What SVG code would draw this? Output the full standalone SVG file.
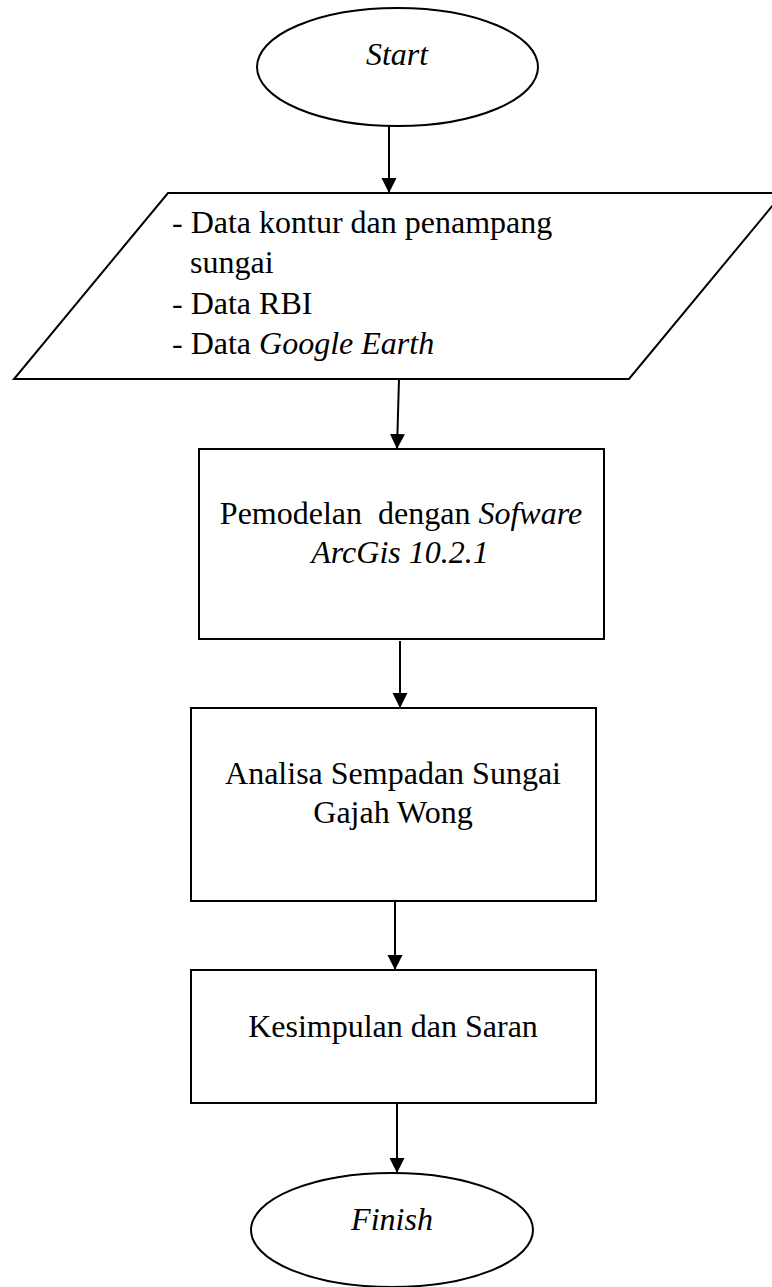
<svg xmlns="http://www.w3.org/2000/svg" width="772" height="1287" viewBox="0 0 772 1287">
<style>
.shape{fill:#fff;stroke:#000;stroke-width:2}
.conn{stroke:#000;stroke-width:2;fill:none}
.t{font-family:"Liberation Serif","Times New Roman",serif;font-size:32px;fill:#000}
.c{text-anchor:middle}
.i{font-style:italic}
</style>
<defs>
<marker id="arr" markerUnits="userSpaceOnUse" markerWidth="16" markerHeight="16" viewBox="0 0 16 16" refX="15" refY="8" orient="auto">
<path d="M0,0.5 L15,8 L0,15.5 Z" fill="#000"/>
</marker>
</defs>
<rect width="772" height="1287" fill="#fff"/>
<g id="connectors">
<line class="conn" x1="389" y1="126" x2="389" y2="193" marker-end="url(#arr)"/>
<line class="conn" x1="399" y1="379" x2="397" y2="449" marker-end="url(#arr)"/>
<line class="conn" x1="400" y1="641" x2="400" y2="708" marker-end="url(#arr)"/>
<line class="conn" x1="395" y1="901" x2="395" y2="970" marker-end="url(#arr)"/>
<line class="conn" x1="397" y1="1103" x2="397" y2="1173" marker-end="url(#arr)"/>
</g>
<g id="start">
<ellipse class="shape" cx="397.5" cy="67" rx="140.5" ry="59"/>
<text class="t c i" x="397" y="65">Start</text>
</g>
<g id="input">
<polygon class="shape" points="168,193 783,193 629,379 14,379"/>
<text class="t" x="172" y="233">- Data kontur dan penampang</text>
<text class="t" x="190" y="273">sungai</text>
<text class="t" x="172" y="314">- Data RBI</text>
<text class="t" x="172" y="354">- Data <tspan class="i">Google Earth</tspan></text>
</g>
<g id="pemodelan">
<rect class="shape" x="199" y="449" width="405" height="190"/>
<text class="t c" x="401" y="524" xml:space="preserve">Pemodelan  dengan <tspan class="i">Sofware</tspan></text>
<text class="t c i" x="400" y="563">ArcGis 10.2.1</text>
</g>
<g id="analisa">
<rect class="shape" x="191" y="708" width="405" height="193"/>
<text class="t c" x="393" y="784">Analisa Sempadan Sungai</text>
<text class="t c" x="393" y="823">Gajah Wong</text>
</g>
<g id="kesimpulan">
<rect class="shape" x="191" y="970" width="405" height="133"/>
<text class="t c" x="393" y="1037">Kesimpulan dan Saran</text>
</g>
<g id="finish">
<ellipse class="shape" cx="392" cy="1230" rx="141" ry="57"/>
<text class="t c i" x="392" y="1230">Finish</text>
</g>
</svg>
